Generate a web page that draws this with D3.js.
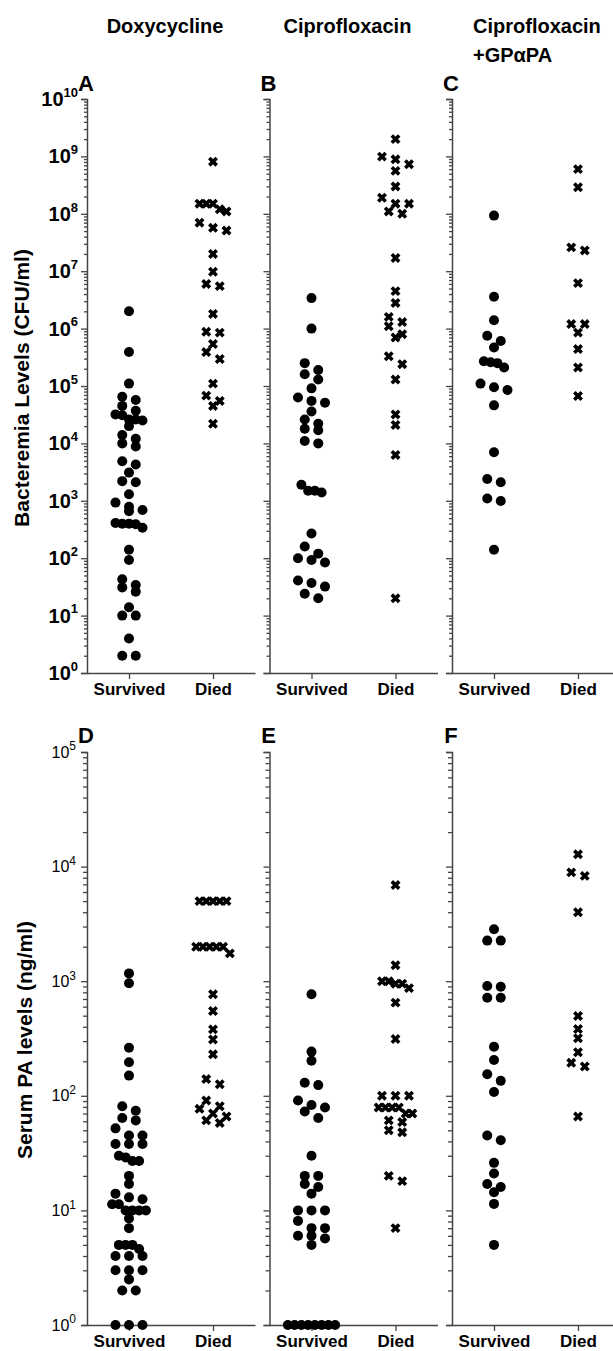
<!DOCTYPE html>
<html>
<head>
<meta charset="utf-8">
<script src="https://cdn.jsdelivr.net/npm/d3@7"></script>
<style>
  body { margin: 0; background: #fff; }
  svg { display: block; font-family: "Liberation Sans", Arial, Helvetica, sans-serif; }
</style>
</head>
<body>
<div id="chart"></div>
<script>
const outcomes = ["Survived", "Died"];
const drugs = ["Doxycycline", "Ciprofloxacin", "Ciprofloxacin +GPαPA"];
const titleLines = [["Doxycycline"], ["Ciprofloxacin"], ["Ciprofloxacin", "+GPαPA"]];
const topLetters = ["A", "B", "C"];
const bottomLetters = ["D", "E", "F"];

// bacteremia levels, CFU/ml
const doxyBactSurvived = [2.0e6, 3.9e5, 1.1e5, 6.5e4, 5.7e4, 4.5e4, 3.7e4, 3.2e4, 3.1e4, 2.6e4, 2.6e4, 2.5e4, 2.0e4,
  1.4e4, 1.2e4, 1.0e4, 8.8e3, 4.9e3, 4.3e3, 3.1e3, 2.2e3, 2.1e3, 1.3e3, 930, 790, 690, 660, 410, 400, 400, 390, 340,
  140, 93, 43, 34, 31, 26, 14, 10, 10, 4, 2, 2];
const doxyBactDied = [8.1e8, 1.5e8, 1.5e8, 1.5e8, 1.2e8, 1.1e8, 7.0e7, 5.7e7, 5.1e7, 2.0e7, 9.8e6, 6.0e6, 5.5e6,
  1.8e6, 8.8e5, 8.5e5, 5.4e5, 3.9e5, 2.95e5, 1.1e5, 6.8e4, 5.5e4, 4.5e4, 2.2e4];
const ciproBactSurvived = [3.4e6, 1.0e6, 2.5e5, 1.9e5, 1.6e5, 1.3e5, 9.1e4, 6.3e4, 5.5e4, 5.1e4, 3.6e4, 2.6e4, 2.2e4,
  1.8e4, 1.7e4, 1.1e4, 1.0e4, 1.9e3, 1.5e3, 1.5e3, 1.4e3, 270, 160, 120, 100, 93, 84, 41, 37, 32, 24, 20];
const ciproBactDied = [2.0e9, 9.9e8, 8.9e8, 7.3e8, 5.6e8, 3.0e8, 1.9e8, 1.5e8, 1.5e8, 1.1e8, 1.0e8, 1.7e7, 4.5e6,
  2.8e6, 1.6e6, 1.3e6, 1.1e6, 8.0e5, 7.0e5, 3.3e5, 2.4e5, 1.3e5, 3.2e4, 2.1e4, 6.3e3, 20];
const comboBactSurvived = [9.3e7, 3.6e6, 1.4e6, 7.5e5, 6.1e5, 4.7e5, 2.7e5, 2.6e5, 2.5e5, 2.1e5, 1.1e5, 9.5e4, 8.5e4,
  4.6e4, 7.0e3, 2.4e3, 2.1e3, 1.1e3, 990, 140];
const comboBactDied = [6.0e8, 2.9e8, 2.6e7, 2.3e7, 6.2e6, 1.2e6, 1.2e6, 8.5e5, 4.4e5, 2.1e5, 6.7e4];

// serum PA levels, ng/ml
const doxyPaSurvived = [1170, 960, 263, 196, 150, 81, 74, 64, 61, 52, 45, 45, 38, 38, 38, 30, 29, 27, 27, 20, 17, 14,
  13, 12.5, 11.3, 11.3, 10, 10, 10, 10, 8.5, 7, 5, 5, 5, 4.6, 4, 4, 4, 3, 3, 3, 2.5, 2, 2, 1, 1, 1];
const doxyPaDied = [5000, 5000, 5000, 5000, 5000, 2000, 2000, 2000, 2000, 2000, 1750, 770, 550, 380, 310, 230, 140,
  126, 91, 81, 77, 70, 66, 61, 58];
const ciproPaSurvived = [770, 243, 202, 130, 124, 91, 83, 79, 73, 64, 30, 20, 20, 17, 16, 14, 10, 10, 10, 8.1, 7, 7,
  6, 6, 5.7, 5, 1, 1, 1, 1, 1, 1, 1, 1];
const ciproPaDied = [6900, 1380, 1000, 1000, 950, 950, 870, 650, 313, 100, 100, 100, 79, 79, 79, 79, 70, 70, 61, 59,
  50, 48, 20, 18, 7];
const comboPaSurvived = [2840, 2260, 2260, 908, 896, 718, 718, 268, 205, 154, 135, 108, 45, 41, 26, 21, 17, 16, 14.4,
  11.4, 5.0];
const comboPaDied = [12800, 8900, 8300, 4000, 497, 383, 318, 240, 194, 180, 66];

const bactSurvived = [doxyBactSurvived, ciproBactSurvived, comboBactSurvived];
const bactDied = [doxyBactDied, ciproBactDied, comboBactDied];
const paSurvived = [doxyPaSurvived, ciproPaSurvived, comboPaSurvived];
const paDied = [doxyPaDied, ciproPaDied, comboPaDied];

const W = 613, H = 1351;
const svg = d3.select("#chart").append("svg")
  .attr("width", W).attr("height", H)
  .style("background", "#fff");

const panelX = d3.scalePoint().domain(drugs).range([87, 452]);
const yTop = d3.scaleLog().domain([1, 1e10]).range([673, 99]);
const yBot = d3.scaleLog().domain([1, 1e5]).range([1325, 752]);

function decades(maxExp) { return d3.range(0, maxExp + 1).map(e => Math.pow(10, e)); }
function minors(maxExp) {
  const t = [];
  for (let e = 0; e < maxExp; e++) for (let m = 2; m < 10; m++) t.push(m * Math.pow(10, e));
  return t;
}

// prism-like column scatter: group close points into rows and spread them
function swarm(values, y, cx) {
  const pts = values.map(v => ({ v: v, y: y(v) })).sort((a, b) => a.y - b.y);
  const rows = [];
  pts.forEach(p => {
    const r = rows[rows.length - 1];
    if (r && p.y - r[0].y < 8) r.push(p);
    else rows.push([p]);
  });
  rows.forEach(r => {
    const n = r.length;
    const step = n <= 3 ? 13.5 : 6.75;
    r.forEach((p, i) => { p.x = cx + (i - (n - 1) / 2) * step; });
  });
  return pts;
}

function styleAxis(g) {
  g.attr("font-family", null).attr("font-size", null);
  g.select(".domain").attr("stroke", "#444").attr("stroke-width", 1.5);
  g.selectAll(".tick line").attr("stroke", "#444").attr("stroke-width", 1.3);
}

function drawPanel(i, y, maxExp, survived, died, letter, cfg) {
  const x0 = panelX(drugs[i]);
  const g = svg.append("g");
  const x = d3.scalePoint().domain(outcomes).range([x0, x0 + 168]).padding(0.5);

  // minor ticks
  g.append("g").attr("transform", `translate(${x0},0)`)
    .call(d3.axisLeft(y).tickValues(minors(maxExp)).tickSize(cfg.minorSize).tickFormat(() => "").tickSizeOuter(0))
    .call(styleAxis)
    .call(a => a.select(".domain").remove());

  // major ticks
  const ya = g.append("g").attr("transform", `translate(${x0},0)`)
    .call(d3.axisLeft(y).tickValues(decades(maxExp)).tickSize(6).tickPadding(cfg.pad)
      .tickFormat(i === 0 ? (d => d) : () => ""))
    .call(styleAxis);

  if (i === 0) {
    ya.selectAll(".tick text").each(function(d) {
      const t = d3.select(this);
      t.text(null)
        .attr("fill", "#000")
        .attr("font-size", cfg.labelSize)
        .attr("font-weight", cfg.labelWeight);
      t.append("tspan").text("10");
      t.append("tspan")
        .attr("font-size", cfg.supSize)
        .attr("dy", cfg.supDy)
        .text(Math.round(Math.log10(d)));
    });
  }

  // x axis
  const base = y.range()[0];
  g.append("g").attr("transform", `translate(0,${base})`)
    .call(d3.axisBottom(x).tickSize(6).tickSizeOuter(0).tickPadding(4))
    .call(styleAxis)
    .call(a => a.selectAll(".tick text")
      .attr("fill", "#000").attr("font-size", 17).attr("font-weight", "bold"));

  // panel letter
  g.append("text")
    .attr("x", x0 - 1).attr("y", cfg.letterY)
    .attr("text-anchor", "middle")
    .attr("font-size", 22).attr("font-weight", "bold")
    .text(letter);

  // survived: filled circles
  g.append("g").selectAll("circle")
    .data(swarm(survived, y, x("Survived")))
    .join("circle")
    .attr("cx", d => d.x).attr("cy", d => d.y)
    .attr("r", 5).attr("fill", "#000");

  // died: bold crosses
  g.append("g").selectAll("path")
    .data(swarm(died, y, x("Died")))
    .join("path")
    .attr("transform", d => `translate(${d.x},${d.y})`)
    .attr("d", "M-3.7,-3.7L3.7,3.7M-3.7,3.7L3.7,-3.7")
    .attr("stroke", "#000").attr("stroke-width", 3.6).attr("fill", "none");
}

const topCfg = { minorSize: 3, pad: 3, labelSize: 20, labelWeight: "bold", supSize: 13, supDy: "-0.7em", letterY: 91 };
const botCfg = { minorSize: 4, pad: 5, labelSize: 16, labelWeight: "normal", supSize: 12, supDy: "-0.6em", letterY: 743 };

drugs.forEach((d, i) => {
  drawPanel(i, yTop, 10, bactSurvived[i], bactDied[i], topLetters[i], topCfg);
  drawPanel(i, yBot, 5, paSurvived[i], paDied[i], bottomLetters[i], botCfg);
});

// titles
drugs.forEach((d, i) => {
  const lines = titleLines[i];
  const x0 = panelX(d);
  const t = svg.append("text")
    .attr("font-size", 20).attr("font-weight", "bold")
    .attr("text-anchor", lines.length > 1 ? "start" : "middle")
    .attr("x", lines.length > 1 ? x0 + 21 : x0 + 78)
    .attr("y", 33);
  lines.forEach((l, k) => {
    t.append("tspan")
      .attr("x", lines.length > 1 ? x0 + 21 : x0 + 78)
      .attr("dy", k === 0 ? 0 : 29)
      .text(l);
  });
});

// y axis titles
svg.append("text")
  .attr("transform", "translate(22,388) rotate(-90)")
  .attr("text-anchor", "middle").attr("dy", "0.35em")
  .attr("font-size", 21).attr("font-weight", "bold")
  .text("Bacteremia Levels (CFU/ml)");

svg.append("text")
  .attr("transform", "translate(25,1040) rotate(-90)")
  .attr("text-anchor", "middle").attr("dy", "0.35em")
  .attr("font-size", 21).attr("font-weight", "bold")
  .text("Serum PA levels (ng/ml)");
</script>
</body>
</html>
